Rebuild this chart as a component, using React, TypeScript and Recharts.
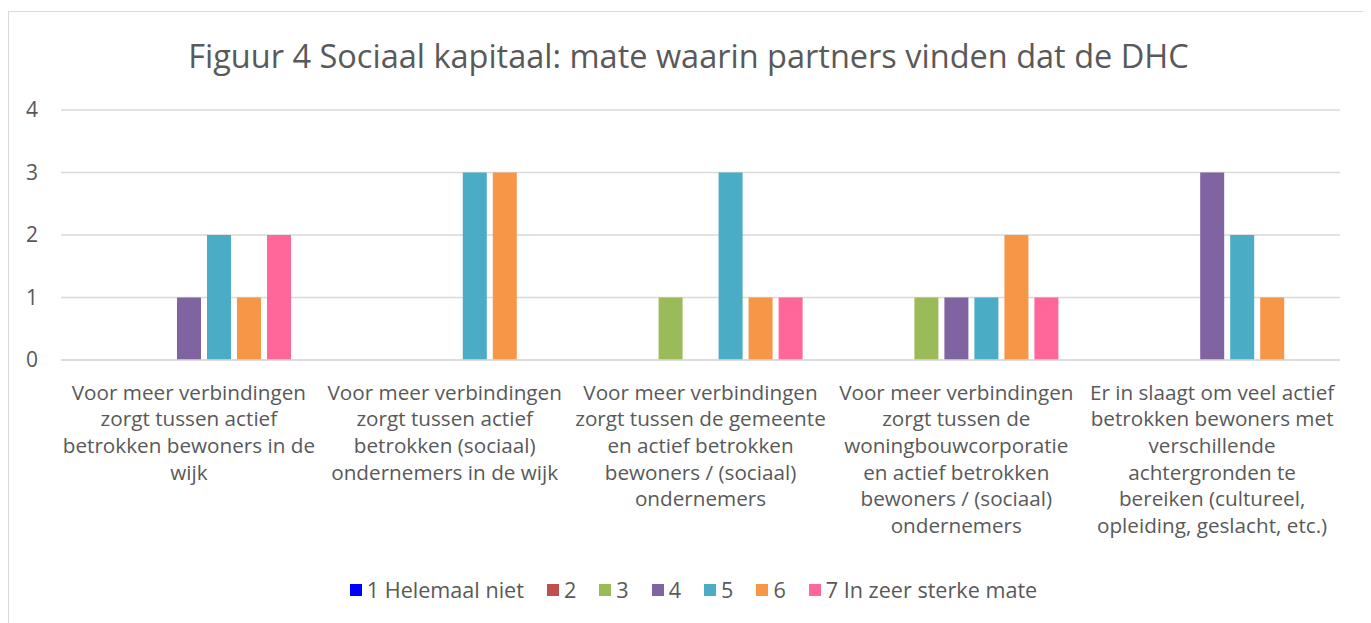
import { BarChart, Bar, CartesianGrid, XAxis, YAxis, Legend } from 'recharts'

const categories = [
  'Voor meer verbindingen\nzorgt tussen actief\nbetrokken bewoners in de\nwijk',
  'Voor meer verbindingen\nzorgt tussen actief\nbetrokken (sociaal)\nondernemers in de wijk',
  'Voor meer verbindingen\nzorgt tussen de gemeente\nen actief betrokken\nbewoners / (sociaal)\nondernemers',
  'Voor meer verbindingen\nzorgt tussen de\nwoningbouwcorporatie\nen actief betrokken\nbewoners / (sociaal)\nondernemers',
  'Er in slaagt om veel actief\nbetrokken bewoners met\nverschillende\nachtergronden te\nbereiken (cultureel,\nopleiding, geslacht, etc.)',
]

const seriesNames = ['1 Helemaal niet', '2', '3', '4', '5', '6', '7 In zeer sterke mate']
const seriesColors = ['#0000FF', '#C0504D', '#9BBB59', '#8064A2', '#4BACC6', '#F79646', '#FF6699']

const s1 = [0, 0, 0, 0, 0]
const s2 = [0, 0, 0, 0, 0]
const s3 = [0, 0, 1, 1, 0]
const s4 = [1, 0, 0, 1, 3]
const s5 = [2, 3, 3, 1, 2]
const s6 = [1, 3, 1, 2, 1]
const s7 = [2, 0, 1, 1, 0]

const yTicks = [0, 1, 2, 3, 4]

const seriesValues = [s1, s2, s3, s4, s5, s6, s7]
const data = categories.map((cat, i) => {
  const row: Record<string, string | number> = { cat }
  seriesValues.forEach((vals, k) => {
    row['s' + (k + 1)] = vals[i]
  })
  return row
})

const FONT = '"Open Sans", Lato, sans-serif'
const TEXT = '#595959'
const GRID = '#d9d9d9'

function CategoryTick({ x, y, payload }: any) {
  const lines = String(payload.value).split('\n')
  return (
    <text x={x} y={y} textAnchor="middle" fill={TEXT} fontSize={20.7} fontFamily={FONT}>
      {lines.map((line, i) => (
        <tspan key={i} x={x} dy={i === 0 ? 39.5 : 26.7}>
          {line}
        </tspan>
      ))}
    </text>
  )
}

function LegendContent() {
  return (
    <div
      style={{
        display: 'flex',
        justifyContent: 'center',
        gap: 23,
        paddingLeft: 38,
        fontFamily: FONT,
        fontSize: 21.6,
        color: TEXT,
      }}
    >
      {seriesNames.map((name, k) => (
        <div key={k} style={{ display: 'flex', alignItems: 'center' }}>
          <span style={{ display: 'inline-block', width: 12, height: 12, background: seriesColors[k], marginRight: 5 }} />
          <span>{name}</span>
        </div>
      ))}
    </div>
  )
}

export default function App() {
  return (
    <div
      style={{
        position: 'relative',
        marginTop: 3,
        width: 1359,
        height: 620,
        border: '1px solid ' + GRID,
        background: '#fff',
      }}
    >
      <div
        style={{
          position: 'absolute',
          top: 23,
          left: 0,
          width: '100%',
          textAlign: 'center',
          fontFamily: FONT,
          fontSize: 32.5,
          color: TEXT,
          lineHeight: '42px',
        }}
      >
        Figuur 4 Sociaal kapitaal: mate waarin partners vinden dat de DHC
      </div>
      <BarChart
        width={1359}
        height={600}
        data={data}
        margin={{ top: 98, right: 28, left: 0, bottom: 11 }}
        barCategoryGap={26}
        barGap={6}
      >
        <CartesianGrid vertical={false} stroke={GRID} strokeWidth={1.5} />
        <XAxis
          dataKey="cat"
          height={215}
          interval={0}
          axisLine={{ stroke: GRID, strokeWidth: 1.5 }}
          tickLine={false}
          tickSize={0}
          tickMargin={0}
          tick={<CategoryTick />}
        />
        <YAxis
          width={52}
          domain={[0, 4]}
          ticks={yTicks}
          axisLine={false}
          tickLine={false}
          tickSize={0}
          tickMargin={23}
          tick={{ fill: TEXT, fontSize: 21, fontFamily: FONT }}
        />
        <Legend verticalAlign="bottom" height={26} content={<LegendContent />} />
        {seriesNames.map((name, k) => (
          <Bar
            key={k}
            dataKey={'s' + (k + 1)}
            name={name}
            fill={seriesColors[k]}
            isAnimationActive={false}
          />
        ))}
      </BarChart>
    </div>
  )
}
